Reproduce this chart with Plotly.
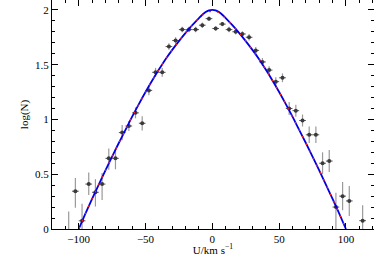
import plotly.graph_objects as go

# observed binned data
U_obs = [-107.5, -102.5, -97.5, -92.5, -87.5, -82.5, -77.5, -72.5, -67.5, -62.5,
         -57.5, -52.5, -47.5, -42.5, -37.5, -32.5, -27.5, -22.5, -17.5, -12.5,
         -7.5, -2.5, 2.5, 7.5, 12.5, 17.5, 22.5, 27.5, 32.5, 37.5,
         42.5, 47.5, 52.5, 57.5, 62.5, 67.5, 72.5, 77.5, 82.5, 87.5,
         92.5, 97.5, 102.5, 112.5]
logN_obs = [-0.06, 0.345, 0.075, 0.41, 0.335, 0.41, 0.645, 0.645, 0.88, 0.94,
            1.06, 0.965, 1.265, 1.43, 1.43, 1.665, 1.72, 1.82, 1.82, 1.82,
            1.86, 1.92, 1.83, 1.87, 1.82, 1.80, 1.78, 1.75, 1.63, 1.525,
            1.45, 1.345, 1.38, 1.10, 1.08, 0.99, 0.86, 0.86, 0.60, 0.62,
            0.20, 0.30, 0.256, 0.076]
err_up = [0.22, 0.12, 0.155, 0.105, 0.12, 0.10, 0.09, 0.09, 0.07, 0.045,
          0.05, 0.065, 0.045, 0.04, 0.04, 0.03, 0.03, 0.025, 0.025, 0.025,
          0.025, 0.02, 0.02, 0.02, 0.025, 0.025, 0.025, 0.03, 0.03, 0.035,
          0.035, 0.04, 0.04, 0.06, 0.055, 0.055, 0.075, 0.075, 0.10, 0.10,
          0.13, 0.13, 0.137, 0.14]
err_dn = [0.22, 0.15, 0.155, 0.10, 0.13, 0.145, 0.105, 0.10, 0.07, 0.045,
          0.05, 0.065, 0.045, 0.04, 0.04, 0.03, 0.03, 0.025, 0.025, 0.025,
          0.025, 0.02, 0.02, 0.02, 0.025, 0.025, 0.025, 0.03, 0.03, 0.035,
          0.035, 0.04, 0.04, 0.06, 0.055, 0.055, 0.075, 0.075, 0.10, 0.10,
          0.20, 0.13, 0.137, 0.14]
bin_half = [2.5] * len(U_obs)

# model curves
U_model = [-100, -95, -90, -85, -80, -75, -70, -65, -60, -55, -50, -45, -40, -35,
           -30, -25, -20, -15, -10, -7.5, -5, -2.5, 0, 2.5, 5, 7.5, 10, 15, 20,
           25, 30, 35, 40, 45, 50, 55, 60, 65, 70, 75, 80, 85, 90, 95, 100]
logN_blue = [0.0, 0.14, 0.275, 0.405, 0.535, 0.66, 0.785, 0.905, 1.025, 1.14, 1.25,
             1.355, 1.455, 1.55, 1.635, 1.715, 1.79, 1.86, 1.925, 1.955, 1.98, 1.995,
             2.0, 1.995, 1.98, 1.955, 1.925, 1.86, 1.79, 1.715, 1.635, 1.55, 1.455,
             1.355, 1.25, 1.14, 1.025, 0.905, 0.785, 0.66, 0.535, 0.405, 0.275, 0.14, 0.0]
logN_red = [0.0, 0.14, 0.275, 0.405, 0.535, 0.66, 0.785, 0.905, 1.025, 1.14, 1.25,
            1.355, 1.455, 1.55, 1.635, 1.715, 1.79, 1.86, 1.92, 1.95, 1.972, 1.983,
            1.987, 1.983, 1.972, 1.95, 1.92, 1.86, 1.79, 1.715, 1.635, 1.55, 1.455,
            1.355, 1.25, 1.14, 1.025, 0.905, 0.785, 0.66, 0.535, 0.405, 0.275, 0.14, 0.0]

FONT = "Liberation Serif"

fig = go.Figure()
fig.add_trace(go.Scatter(
    x=U_obs, y=logN_obs, mode="markers",
    marker=dict(color="#3a3a3a", size=4),
    error_y=dict(type="data", symmetric=False, array=err_up, arrayminus=err_dn,
                 color="#9a9a9a", thickness=1.2, width=0),
    error_x=dict(type="data", array=bin_half, color="#555555", thickness=1, width=0),
    showlegend=False))
fig.add_trace(go.Scatter(
    x=U_model, y=logN_blue, mode="lines", line=dict(color="#0000e6", width=1.8, shape="spline"),
    showlegend=False))
fig.add_trace(go.Scatter(
    x=U_model, y=logN_red, mode="lines",
    line=dict(color="#ff2020", width=1.1, dash="2px,6px", shape="spline"),
    showlegend=False))

axis_common = dict(showline=True, linecolor="black", linewidth=1, mirror="ticks",
                   ticks="inside", ticklen=6, tickcolor="black", showgrid=False,
                   zeroline=False, tickfont=dict(family=FONT, size=11, color="black"))

fig.update_xaxes(range=[-120, 121], tick0=0, dtick=50,
                 minor=dict(dtick=10, ticks="inside", ticklen=3, tickcolor="black"),
                 title=dict(text="U/km s<sup>−1</sup>", font=dict(family=FONT, size=11, color="black"),
                            standoff=2),
                 **axis_common)
fig.update_yaxes(range=[0, 2.09], tick0=0, dtick=0.5,
                 minor=dict(dtick=0.1, ticks="inside", ticklen=3, tickcolor="black"),
                 title=dict(text="log(N)", font=dict(family=FONT, size=11, color="black"),
                            standoff=4),
                 **axis_common)

fig.update_layout(width=374, height=256, margin=dict(l=52, r=0, t=0, b=27),
                  plot_bgcolor="white", paper_bgcolor="white",
                  font=dict(family=FONT, size=11, color="black"))

fig.write_html("out.html", config={"displayModeBar": False},
               post_script="document.body.style.margin='0';document.body.style.overflow='hidden';")
